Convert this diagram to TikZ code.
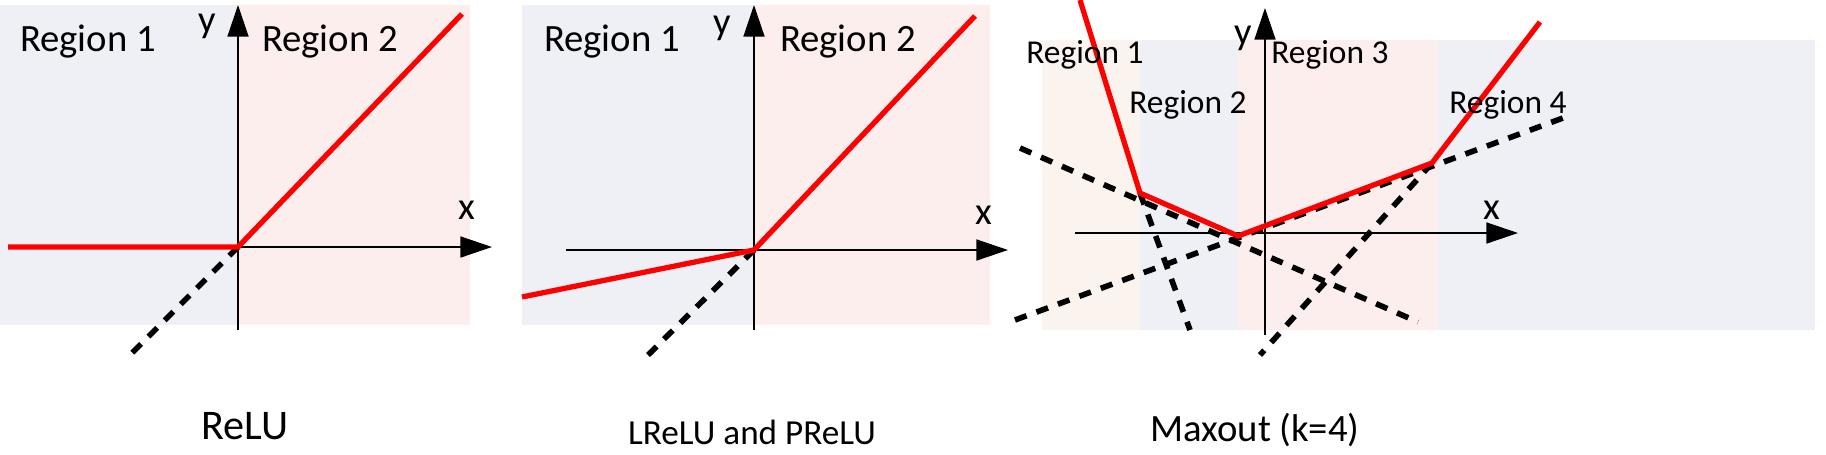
\documentclass[tikz,border=0pt]{standalone}
\usepackage{fontspec}
\setmainfont{Carlito}
\usetikzlibrary{arrows.meta}
\definecolor{RegBlue}{HTML}{EEF0F6}
\definecolor{RegPink}{HTML}{FCEEEC}
\definecolor{RegSand}{HTML}{FAF3EE}
\tikzset{
    axisline/.style={thin, -{Triangle[length=9pt,width=6pt]}},
    actline/.style={red, line width=1.5pt},
    dashline/.style={black, line width=1.6pt, dash pattern=on 3.5pt off 3pt},
    reglabel/.style={font=\fontsize{11}{13}\selectfont},
    smalllabel/.style={font=\fontsize{9.5}{11}\selectfont},
    caption/.style={font=\fontsize{10}{12}\selectfont}
}
\begin{document}
\begin{tikzpicture}[x=0.01cm, y=-0.01cm]
    \useasboundingbox (0,0) rectangle (1826,454);

    % ReLU
    \fill[RegBlue] (0,5) rectangle (238,325);
    \fill[RegPink] (238,5) rectangle (470,325);
    \coordinate (o1) at (238,247);
    \draw[axisline] (238,330) -- (238,5);
    \draw[axisline] (8,247) -- (492,247);
    \draw[dashline] (o1) -- (130,355);
    \draw[actline] (8,247) -- (o1) -- (462,14);
    \node[reglabel] (r11) at (88,42) {Region 1};
    \node[reglabel] (r12) at (330,42) {Region 2};
    \node[reglabel] (y1) at (207,26) {y};
    \node[reglabel] (x1) at (467,210) {x};
    \node[caption, font=\fontsize{12}{14}\selectfont] (c1) at (245,426) {ReLU};

    % LReLU and PReLU
    \fill[RegBlue] (522,5) rectangle (754,325);
    \fill[RegPink] (754,5) rectangle (990,325);
    \coordinate (o2) at (754,250);
    \draw[axisline] (754,330) -- (754,5);
    \draw[axisline] (566,250) -- (1008,250);
    \draw[dashline] (o2) -- (648,355);
    \draw[actline] (522,297) -- (o2) -- (975,16);
    \node[reglabel] (r21) at (612,42) {Region 1};
    \node[reglabel] (r22) at (848,42) {Region 2};
    \node[reglabel] (y2) at (722,28) {y};
    \node[reglabel] (x2) at (984,215) {x};
    \node[caption] (c2) at (752,432) {LReLU and PReLU};

    % Maxout
    \fill[RegSand] (1042,40) rectangle (1140,330);
    \fill[RegBlue] (1140,40) rectangle (1238,330);
    \fill[RegPink] (1238,40) rectangle (1438,330);
    \fill[RegBlue] (1438,40) rectangle (1815,330);
    \coordinate (k1) at (1140,193);
    \coordinate (k2) at (1238,236);
    \coordinate (k3) at (1432,163);
    \draw[axisline] (1265,335) -- (1265,8);
    \draw[axisline] (1075,233) -- (1518,233);
    \draw[dashline] (k1) -- (1190,330);
    \draw[dashline] (1020,148) -- (1418,322);
    \draw[dashline] (1015,320) -- (1563,118);
    \draw[dashline] (k3) -- (1260,355);
    \draw[actline] (1080,0) -- (k1) -- (k2) -- (k3) -- (1540,22);
    \node[smalllabel] (r31) at (1085,55) {Region 1};
    \node[smalllabel] (r32) at (1188,105) {Region 2};
    \node[smalllabel] (r33) at (1330,55) {Region 3};
    \node[smalllabel] (r34) at (1508,105) {Region 4};
    \node[reglabel] (y3) at (1243,38) {y};
    \node[reglabel] (x3) at (1492,210) {x};
    \node[caption, font=\fontsize{11}{13}\selectfont] (c3) at (1255,430) {Maxout (k=4)};
\end{tikzpicture}
\end{document}
